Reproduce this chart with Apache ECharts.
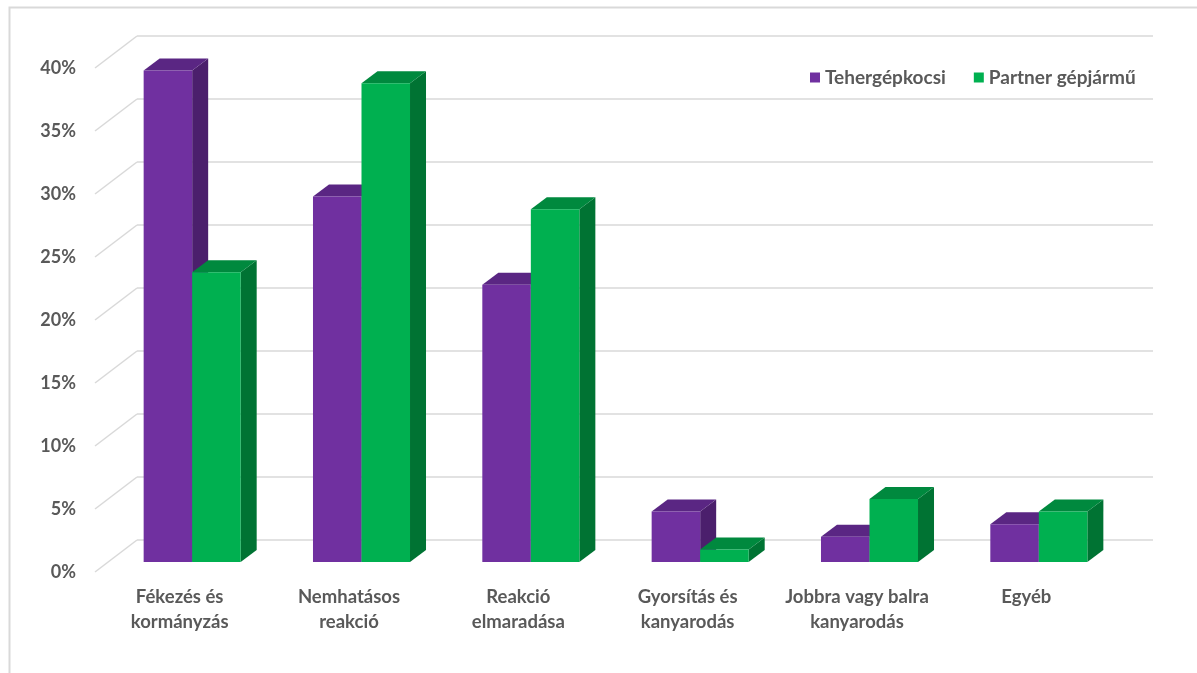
<!DOCTYPE html>
<html>
<head>
<meta charset="utf-8">
<script src="https://cdn.jsdelivr.net/npm/echarts@6/dist/echarts.min.js"></script>
<style>
  html, body { margin: 0; padding: 0; background: #ffffff; }
  #chart { width: 1197px; height: 673px; }
</style>
</head>
<body>
<div id="chart"></div>
<script>
// Categories and values (percent)
const categories = [
  'Fékezés és\nkormányzás',
  'Nemhatásos\nreakció',
  'Reakció\nelmaradása',
  'Gyorsítás és\nkanyarodás',
  'Jobbra vagy balra\nkanyarodás',
  'Egyéb'
];
const seriesNames = ['Tehergépkocsi', 'Partner gépjármű'];
const truckValues = [39, 29, 22, 4, 2, 3];
const partnerValues = [23, 38, 28, 1, 5, 4];
const yTicks = [0, 5, 10, 15, 20, 25, 30, 35, 40];

// Face colours: front, top, side
const palette = [
  { front: '#7030A0', top: '#5A2683', side: '#4B1F6C' },
  { front: '#00B050', top: '#00893E', side: '#007333' }
];

// Oblique projection offsets (px)
const WALL_TO_FRONT = [-42, 32];   // back wall -> front edge of floor
const WALL_TO_BAR = [-29.5, 22];   // back wall -> front face of bars
const BAR_DEPTH = [16, -12];       // front face -> back face of a bar
const BAR_FRACTION = 0.2865;       // bar width relative to category band

const chart = echarts.init(document.getElementById('chart'));
const textColor = '#595959';
const fontFamily = 'Lato, "Open Sans", sans-serif';

function barSeries(sIdx, values) {
  return {
    name: seriesNames[sIdx],
    type: 'custom',
    xAxisIndex: 0,
    yAxisIndex: 0,
    clip: false,
    z: 5,
    itemStyle: { color: palette[sIdx].front },
    data: values.map((v, i) => [i, v]),
    encode: { x: 0, y: 1 },
    renderItem: function (params, api) {
      const idx = api.value(0);
      const val = api.value(1);
      const band = api.size([1, 0])[0];
      const w = band * BAR_FRACTION;
      const center = api.coord([idx, 0]);
      const topPt = api.coord([idx, val]);
      const x0 = center[0] + WALL_TO_BAR[0] - w + sIdx * w;
      const y0 = center[1] + WALL_TO_BAR[1];
      const yt = topPt[1] + WALL_TO_BAR[1];
      const dx = BAR_DEPTH[0], dy = BAR_DEPTH[1];
      const c = palette[sIdx];
      return {
        type: 'group',
        children: [
          {
            type: 'polygon',
            shape: { points: [[x0 + w, yt], [x0 + w + dx, yt + dy], [x0 + w + dx, y0 + dy], [x0 + w, y0]] },
            style: { fill: c.side }
          },
          {
            type: 'polygon',
            shape: { points: [[x0, yt], [x0 + w, yt], [x0 + w + dx, yt + dy], [x0 + dx, yt + dy]] },
            style: { fill: c.top }
          },
          {
            type: 'rect',
            shape: { x: x0, y: yt, width: w, height: y0 - yt },
            style: { fill: c.front }
          }
        ]
      };
    }
  };
}

const option = {
  backgroundColor: '#ffffff',
  animation: false,
  graphic: [
    {
      type: 'rect',
      left: 7, top: 5,
      shape: { width: 1220, height: 700 },
      style: { fill: 'none', stroke: '#d9d9d9', lineWidth: 2 },
      z: 0
    }
  ],
  legend: {
    left: 805,
    top: 63,
    itemWidth: 10,
    itemHeight: 10,
    itemGap: 28,
    icon: 'rect',
    textStyle: { color: textColor, fontSize: 19, fontWeight: 'bold', fontFamily: fontFamily },
    data: seriesNames
  },
  grid: [
    // back wall
    { left: 137, top: 36, right: 44, bottom: 133 },
    // front edge (axis labels)
    { left: 95, top: 68, right: 86, bottom: 101 }
  ],
  xAxis: [
    {
      type: 'category', gridIndex: 0, data: categories,
      axisLine: { show: false }, axisTick: { show: false }, axisLabel: { show: false }
    },
    {
      type: 'category', gridIndex: 1, data: categories,
      axisLine: { show: false }, axisTick: { show: false },
      axisLabel: {
        color: textColor, fontSize: 18.5, fontWeight: 'bold', fontFamily: fontFamily,
        lineHeight: 25, margin: 13, interval: 0
      }
    }
  ],
  yAxis: [
    {
      type: 'value', gridIndex: 0, min: 0, max: 40, interval: 5,
      axisLine: { show: false }, axisTick: { show: false }, axisLabel: { show: false },
      splitLine: { lineStyle: { color: '#d9d9d9', width: 1.5 } }
    },
    {
      type: 'value', gridIndex: 1, min: 0, max: 40, interval: 5,
      axisLine: { show: false }, axisTick: { show: false },
      splitLine: { show: false },
      axisLabel: {
        formatter: '{value}%', color: textColor, fontSize: 18, fontWeight: 'bold',
        fontFamily: fontFamily, margin: 19
      }
    }
  ],
  series: [
    {
      // side-wall lines joining back wall ticks to the front edge
      type: 'custom',
      xAxisIndex: 0,
      yAxisIndex: 0,
      clip: false,
      silent: true,
      z: 1,
      data: yTicks.map(v => [0, v]),
      encode: { x: 0, y: 1 },
      renderItem: function (params, api) {
        const p = api.coord([0, api.value(1)]);
        const x = params.coordSys.x;
        return {
          type: 'line',
          shape: { x1: x, y1: p[1], x2: x + WALL_TO_FRONT[0], y2: p[1] + WALL_TO_FRONT[1] },
          style: { stroke: '#d9d9d9', lineWidth: 1.5 }
        };
      }
    },
    barSeries(0, truckValues),
    barSeries(1, partnerValues)
  ]
};

chart.setOption(option);
</script>
</body>
</html>
